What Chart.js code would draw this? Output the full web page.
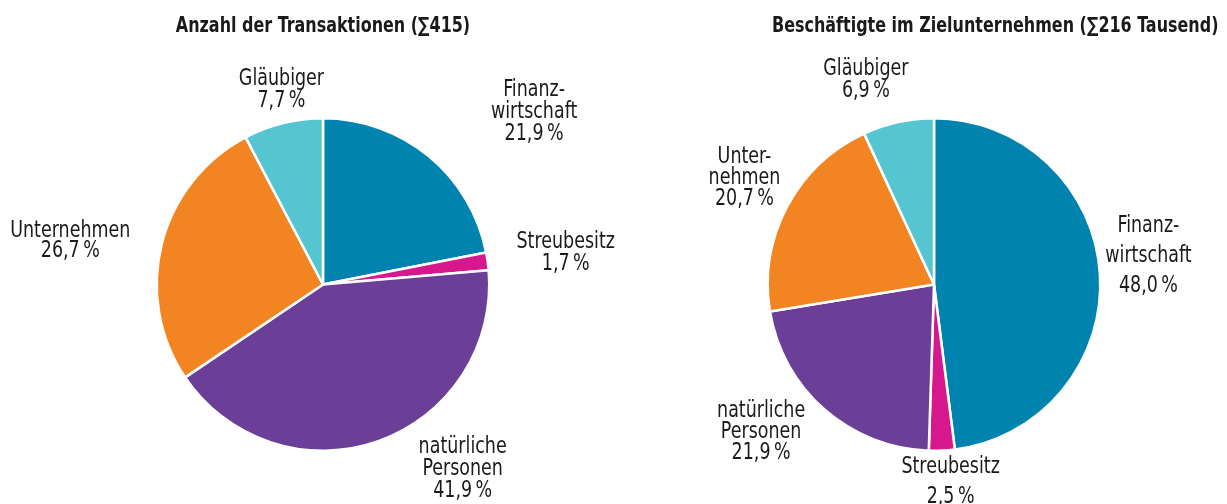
<!DOCTYPE html>
<html>
<head>
<meta charset="utf-8">
<script src="https://cdn.jsdelivr.net/npm/chart.js@4"></script>
<style>
  html, body { margin: 0; padding: 0; background: #fff; }
  #wrap { position: relative; width: 1227px; height: 504px; overflow: hidden; }
  canvas { position: absolute; top: 0; left: 0; }
</style>
</head>
<body>
<div id="wrap">
  <canvas id="left" width="1227" height="504"></canvas>
  <canvas id="right" width="1227" height="504"></canvas>
</div>
<script>
// categories (same order in both pies, clockwise from 12 o'clock)
const categories = ["Finanzwirtschaft", "Streubesitz", "natürliche Personen", "Unternehmen", "Gläubiger"];
const sliceColors = ["#0084AF", "#D6188C", "#6B3F97", "#F28522", "#55C5D1"];

// left pie: number of transactions, share in %
const leftTitle = "Anzahl der Transaktionen (∑415)";
const leftValues = [21.9, 1.7, 41.9, 26.7, 7.7];
const leftNames = [["Finanz-", "wirtschaft"], ["Streubesitz"], ["natürliche", "Personen"], ["Unternehmen"], ["Gläubiger"]];

// right pie: employees in target company, share in %
const rightTitle = "Beschäftigte im Zielunternehmen (∑216 Tausend)";
const rightValues = [48.0, 2.5, 21.9, 20.7, 6.9];
const rightNames = [["Finanz-", "wirtschaft"], ["Streubesitz"], ["natürliche", "Personen"], ["Unter-", "nehmen"], ["Gläubiger"]];

// only a condensed DejaVu is around, squeeze it a bit more to look narrow
const FONT = '"Liberation Sans Narrow", "DejaVu Sans Condensed", sans-serif';
const SQUEEZE = 0.845;

function fmt(v) {
  return v.toFixed(1).replace(".", ",") + "\u2009%";
}

function squeezedText(ctx, t, x, y) {
  ctx.save();
  ctx.translate(x, y);
  ctx.scale(SQUEEZE, 1);
  ctx.fillText(t, 0, 0);
  ctx.restore();
}

// draws the title and the slice labels around the pie
const sliceLabels = {
  id: "sliceLabels",
  afterDraw(chart, args, opts) {
    const ctx = chart.ctx;
    const arc = chart.getDatasetMeta(0).data[0];
    const cx = arc.x, cy = arc.y, r = arc.outerRadius;
    const values = chart.data.datasets[0].data;

    ctx.save();
    ctx.fillStyle = "#1a1a1a";
    ctx.textBaseline = "middle";

    ctx.font = "bold 21px " + FONT;
    ctx.textAlign = opts.titleAlign;
    squeezedText(ctx, opts.title, opts.titleX, 27);

    ctx.font = "23px " + FONT;
    ctx.textAlign = "center";
    opts.names.forEach((name, i) => {
      const lines = name.concat([fmt(values[i])]);
      const [ox, oy, lh] = opts.place[i];
      const x = cx + ox * r;
      const y0 = cy + oy * r - (lines.length - 1) * lh / 2;
      lines.forEach((t, j) => squeezedText(ctx, t, x, y0 + j * lh));
    });
    ctx.restore();
  }
};

function makePie(id, values, names, title, titleX, titleAlign, pad, place) {
  return new Chart(document.getElementById(id), {
    type: "pie",
    data: {
      labels: categories,
      datasets: [{
        data: values,
        backgroundColor: sliceColors,
        borderColor: "#ffffff",
        borderWidth: 2.5
      }]
    },
    options: {
      responsive: false,
      animation: false,
      events: [],
      layout: { padding: pad },
      plugins: {
        legend: { display: false },
        tooltip: { enabled: false },
        title: { display: false },
        sliceLabels: { names, title, titleX, titleAlign, place }
      }
    },
    plugins: [sliceLabels]
  });
}

// label block centre relative to pie centre (in radii) and line height
makePie("left", leftValues, leftNames, leftTitle, 323, "center",
  { top: 117, bottom: 52, left: 120, right: 701 },
  [[1.27, -1.04, 22], [1.46, -0.19, 22], [0.84, 1.11, 22], [-1.52, -0.26, 20], [-0.25, -1.17, 22]]);

makePie("right", rightValues, rightNames, rightTitle, 772, "left",
  { top: 117, bottom: 52, left: 733, right: 92 },
  [[1.29, -0.17, 30], [0.10, 1.19, 30], [-1.04, 0.89, 21], [-1.14, -0.64, 21], [-0.41, -1.23, 22]]);
</script>
</body>
</html>
